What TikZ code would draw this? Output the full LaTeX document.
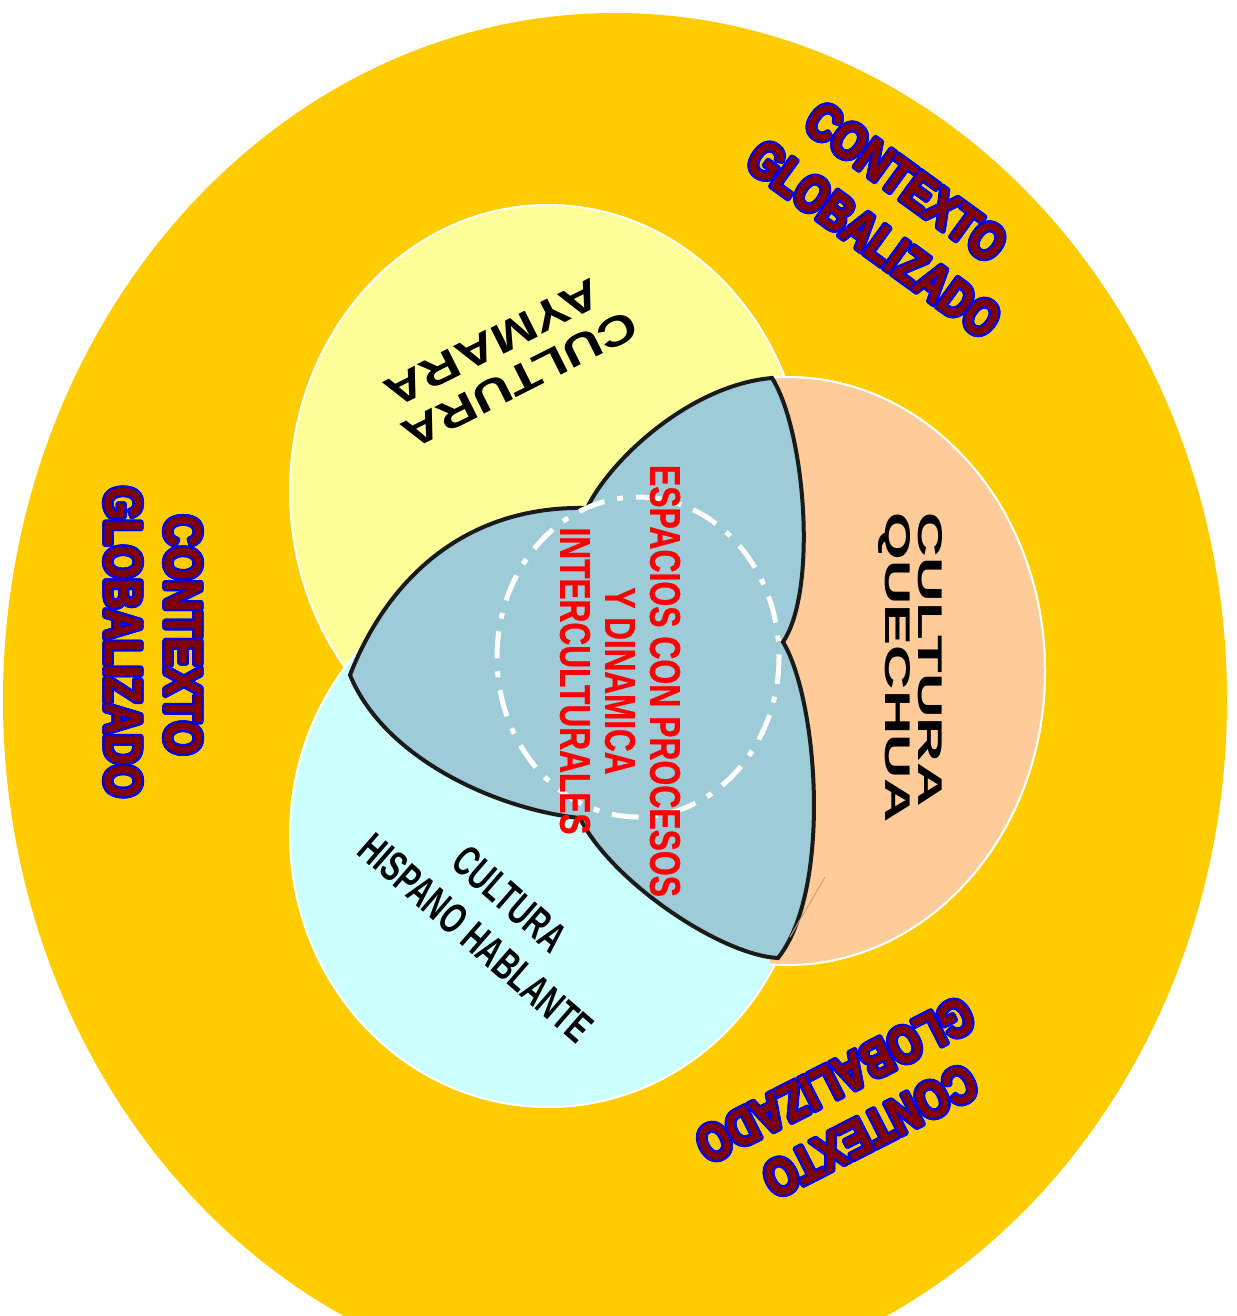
\documentclass[tikz,border=0pt]{standalone}
\usepackage{fontspec}
\usepackage{graphicx}
\setmainfont{Liberation Sans}
\newfontfamily\heavyfont{Liberation Sans Bold}[FakeBold=2]
\newfontfamily\semiheavy{Liberation Sans Bold}[FakeBold=0.8]
\usetikzlibrary{calc}
\definecolor{gold}{HTML}{FFCC00}
\definecolor{aymara}{HTML}{FFFF99}
\definecolor{hispano}{HTML}{CCFFFF}
\definecolor{quechua}{HTML}{FFCC99}
\definecolor{interblue}{HTML}{9DCBD8}
\definecolor{edge}{HTML}{1A1A1A}
\definecolor{ctxred}{HTML}{7F0000}
\definecolor{ctxblue}{HTML}{0000EE}
\definecolor{faint}{HTML}{C9A27E}
\newcommand\fitbox[3]{\resizebox{#1pt}{#2pt}{#3}}
\begin{document}
\begin{tikzpicture}[x=1pt,y=-1pt,
  ring/.style={draw=white,line width=2pt},
  redtxt/.style={text=red,inner sep=0pt,font=\semiheavy},
  blktxt/.style={text=black,inner sep=0pt,font=\bfseries},
  ctxout/.style={text=ctxblue,inner sep=0pt,font=\heavyfont},
  ctxin/.style={text=ctxred,inner sep=0pt,font=\heavyfont},
  inter/.style={fill=interblue,draw=edge,line width=4pt,line join=miter},
  dashring/.style={draw=white,line width=5pt,dash pattern=on 27pt off 13pt on 6pt off 13pt}]
\useasboundingbox (0,0) rectangle (1236,1316);
\clip (0,0) rectangle (1236,1316);
% outer context
\fill[gold] (615,700) ellipse [x radius=612, y radius=687];
% three cultures
\filldraw[fill=quechua,ring] (787,671) ellipse [x radius=258, y radius=294];
\filldraw[fill=aymara,ring] (548,491) ellipse [x radius=258, y radius=286];
\filldraw[fill=hispano,ring] (548,835) ellipse [x radius=258, y radius=272];
\begin{scope}
  \clip (770,0) rectangle (1236,1316);
  \filldraw[fill=quechua,ring] (787,671) ellipse [x radius=258, y radius=294];
\end{scope}
% intercultural space
\coordinate (L) at (350,675);
\coordinate (N1) at (587,508);
\coordinate (T) at (772,378);
\coordinate (N2) at (783,642);
\coordinate (B) at (778,958);
\coordinate (N3) at (580,818);
\path[inter] (L) .. controls (385,585) and (460,505) .. (N1)
  .. controls (610,460) and (690,385) .. (T)
  .. controls (805,430) and (818,590) .. (N2)
  .. controls (818,700) and (832,890) .. (B)
  .. controls (720,955) and (610,880) .. (N3)
  .. controls (500,810) and (385,760) .. (L) -- cycle;
\draw[dashring] (638,657) ellipse [x radius=141, y radius=160];
\coordinate (f1) at (825,877);
\coordinate (f2) at (790,937);
\draw[faint,line width=1pt] (f1) -- (f2);
% central text
\node[redtxt,rotate=-90] (esp1) at (665,681) {\fitbox{432}{30}{ESPACIOS CON PROCESOS}};
\node[redtxt,rotate=-90] (esp2) at (620,681) {\fitbox{187}{30}{Y DINAMICA}};
\node[redtxt,rotate=-90] (esp3) at (575,681) {\fitbox{307}{30}{INTERCULTURALES}};
% culture labels
\node[blktxt,rotate=-41] (his1) at (510,899) {\fitbox{135}{30}{CULTURA}};
\node[blktxt,rotate=-41] (his2) at (476,938) {\fitbox{293}{30}{HISPANO HABLANTE}};
\node[blktxt,rotate=206.7] (aym1) at (520,380) {\fitbox{258}{29}{CULTURA}};
\node[blktxt,rotate=206.7] (aym2) at (493,343) {\fitbox{236}{29}{AYMARA}};
\node[blktxt,rotate=-90] (que1) at (930,660) {\fitbox{294}{24}{CULTURA}};
\node[blktxt,rotate=-90] (que2) at (894,668) {\fitbox{310}{25}{QUECHUA}};
% context labels: blue outline copies, then dark red fill
\foreach \ang in {0,24,...,336}{
  \node[ctxout,rotate=-90] (ctxa\ang) at ($(183,635)+(\ang:2.4)$) {\fitbox{240}{36}{CONTEXTO}};
  \node[ctxout,rotate=-90] (ctxb\ang) at ($(123,642)+(\ang:2.4)$) {\fitbox{311}{36}{GLOBALIZADO}};
  \node[ctxout,rotate=-36] (ctxc\ang) at ($(906,182)+(\ang:2.4)$) {\fitbox{233}{36}{CONTEXTO}};
  \node[ctxout,rotate=-36] (ctxd\ang) at ($(874,239)+(\ang:2.4)$) {\fitbox{297}{36}{GLOBALIZADO}};
  \node[ctxout,rotate=207] (ctxe\ang) at ($(870,1131)+(\ang:2.4)$) {\fitbox{232}{36}{CONTEXTO}};
  \node[ctxout,rotate=207] (ctxf\ang) at ($(835,1080)+(\ang:2.4)$) {\fitbox{303}{36}{GLOBALIZADO}};
}
\node[ctxin,rotate=-90] (ctxa) at (183,635) {\fitbox{240}{36}{CONTEXTO}};
\node[ctxin,rotate=-90] (ctxb) at (123,642) {\fitbox{311}{36}{GLOBALIZADO}};
\node[ctxin,rotate=-36] (ctxc) at (906,182) {\fitbox{233}{36}{CONTEXTO}};
\node[ctxin,rotate=-36] (ctxd) at (874,239) {\fitbox{297}{36}{GLOBALIZADO}};
\node[ctxin,rotate=207] (ctxe) at (870,1131) {\fitbox{232}{36}{CONTEXTO}};
\node[ctxin,rotate=207] (ctxf) at (835,1080) {\fitbox{303}{36}{GLOBALIZADO}};
\end{tikzpicture}
\end{document}
